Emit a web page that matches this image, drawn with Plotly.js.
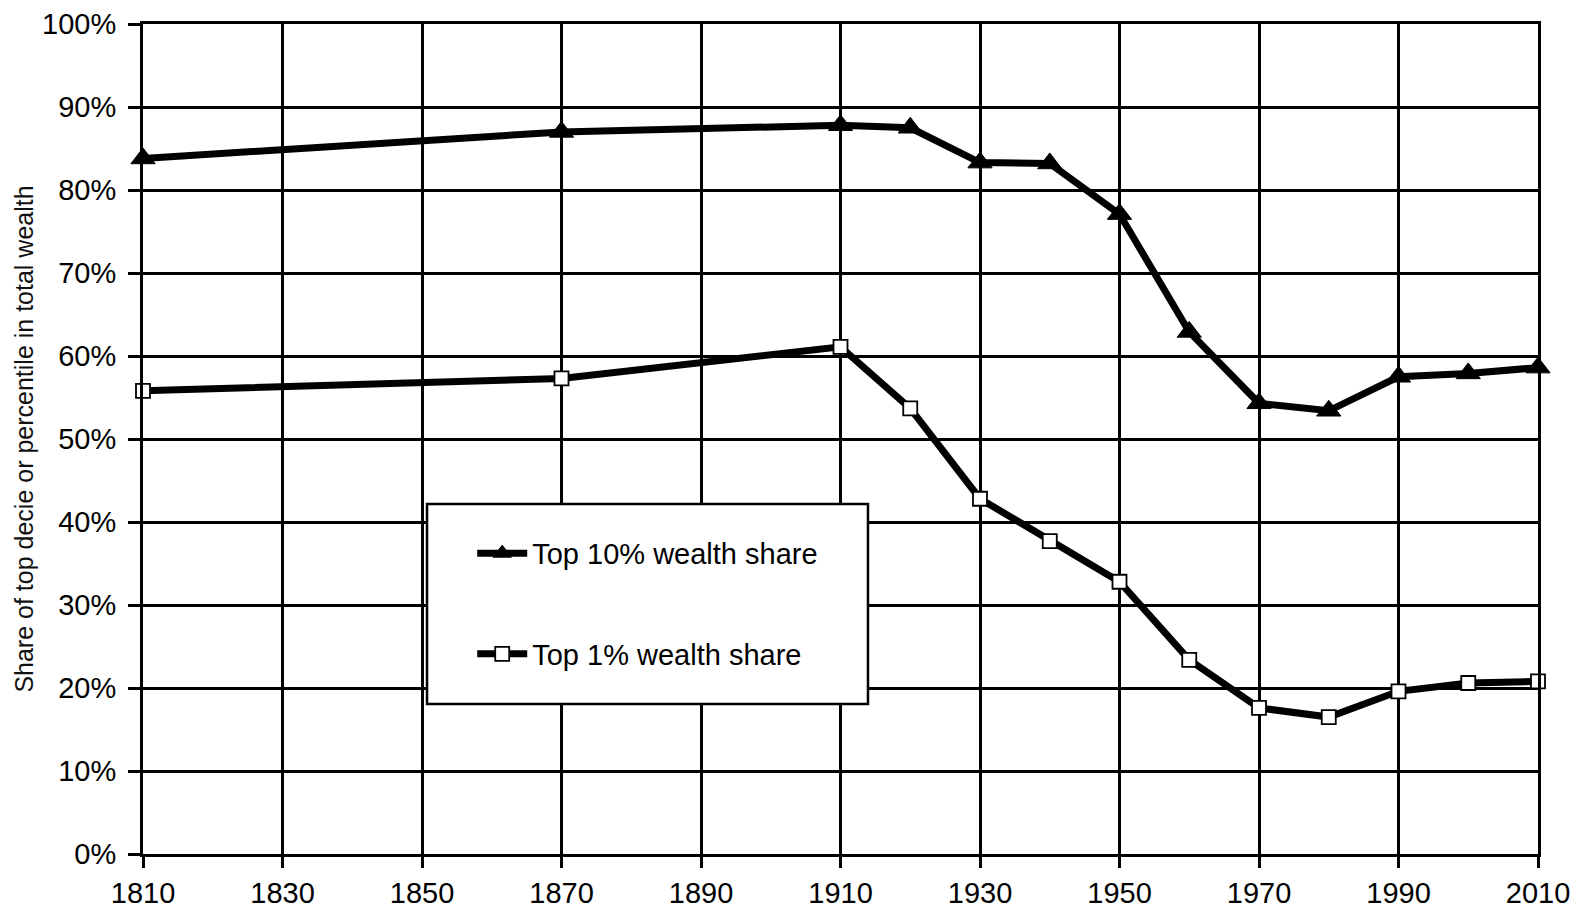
<!DOCTYPE html>
<html>
<head>
<meta charset="utf-8">
<script src="https://cdn.plot.ly/plotly-3.0.1.min.js"></script>
<style>html,body{margin:0;padding:0;background:#fff;}#chart{width:1578px;height:908px;}</style>
</head>
<body>
<div id="chart"></div>
<script>
const years = [1810, 1870, 1910, 1920, 1930, 1940, 1950, 1960, 1970, 1980, 1990, 2000, 2010];
const top10Share = [83.8, 87.0, 87.8, 87.5, 83.3, 83.2, 77.1, 62.9, 54.3, 53.4, 57.5, 57.9, 58.6];
const top1Share = [55.8, 57.3, 61.1, 53.7, 42.8, 37.7, 32.8, 23.4, 17.6, 16.5, 19.6, 20.6, 20.8];
const seriesNames = ['Top 10% wealth share', 'Top 1% wealth share'];
const yTitle = 'Share of top decie or percentile in total wealth';

const FONT = '"Liberation Sans", Arial, Helvetica, sans-serif';

const traces = [
  {
    x: years, y: top10Share, name: seriesNames[0], type: 'scatter', mode: 'lines+markers',
    legendgroup: 'a', cliponaxis: false,
    line: {color: '#000', width: 7},
    marker: {symbol: 'triangle-up', size: 21, color: '#000', line: {color: '#000', width: 1}}
  },
  {
    x: years, y: top1Share, name: seriesNames[1], type: 'scatter', mode: 'lines+markers',
    legendgroup: 'b', cliponaxis: false,
    line: {color: '#000', width: 7},
    marker: {symbol: 'square', size: 14, color: '#fff', line: {color: '#000', width: 1.8}}
  }
];

const layout = {
  width: 1578, height: 908,
  paper_bgcolor: '#fff', plot_bgcolor: '#fff',
  margin: {l: 143, r: 40, t: 24, b: 54, pad: 0},
  font: {family: FONT, color: '#000', size: 28},
  showlegend: true,
  legend: {
    x: 0.236, y: 0.393, xanchor: 'left', yanchor: 'top',
    bgcolor: 'rgba(0,0,0,0)', borderwidth: 0,
    font: {family: FONT, size: 29, color: '#000'},
    tracegroupgap: 60, itemwidth: 50, traceorder: 'grouped'
  },
  xaxis: {
    range: [1810, 2010], tick0: 1810, dtick: 20, tickmode: 'linear',
    showgrid: true, gridcolor: '#000', gridwidth: 3,
    showline: true, linecolor: '#000', linewidth: 3, mirror: true,
    ticks: 'outside', ticklen: 11, tickwidth: 3, tickcolor: '#000',
    ticklabelstandoff: 0,
    tickfont: {family: FONT, size: 29, color: '#000'},
    zeroline: false, fixedrange: true
  },
  yaxis: {
    range: [0, 100], tick0: 0, dtick: 10, tickmode: 'linear', ticksuffix: '%',
    showgrid: true, gridcolor: '#000', gridwidth: 3,
    showline: true, linecolor: '#000', linewidth: 3, mirror: true,
    ticks: 'outside', ticklen: 12, tickwidth: 3, tickcolor: '#000',
    ticklabelstandoff: 6,
    tickfont: {family: FONT, size: 29, color: '#000'},
    zeroline: false, fixedrange: true,
    title: {text: yTitle, font: {family: FONT, size: 25, color: '#111'}, standoff: 2}
  },
  shapes: [{
    type: 'rect', xref: 'paper', yref: 'paper',
    x0: 0.2036, x1: 0.5197, y0: 0.1807, y1: 0.4217,
    fillcolor: '#fff', line: {color: '#000', width: 2.5}, layer: 'above'
  }]
};

Plotly.newPlot('chart', traces, layout, {displayModeBar: false, staticPlot: true});
</script>
</body>
</html>
